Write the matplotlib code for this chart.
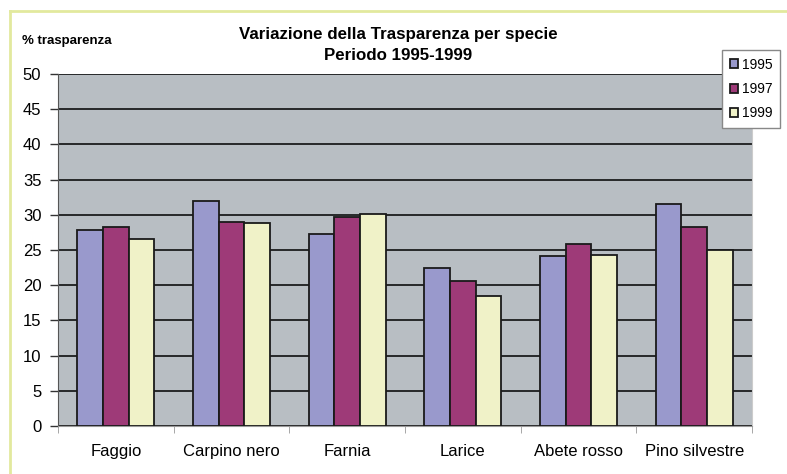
import matplotlib
matplotlib.use('Agg')
import matplotlib.pyplot as plt
import numpy as np
from matplotlib.lines import Line2D

plt.rcParams['font.family'] = ['Liberation Sans', 'DejaVu Sans']

species = ['Faggio', 'Carpino nero', 'Farnia', 'Larice', 'Abete rosso', 'Pino silvestre']
years = ['1995', '1997', '1999']
v1995 = [27.8, 31.9, 27.3, 22.4, 24.2, 31.5]
v1997 = [28.2, 29.0, 29.7, 20.6, 25.9, 28.3]
v1999 = [26.6, 28.8, 30.1, 18.5, 24.3, 25.0]
yticks = [0, 5, 10, 15, 20, 25, 30, 35, 40, 45, 50]

colors = ['#9999CC', '#9E3A78', '#F0F2C8']

fig = plt.figure(figsize=(7.87, 4.74), dpi=100)
ax = fig.add_axes([58/787, 1-426/474, (752-58)/787, (426-74)/474])
ax.set_facecolor('#B8BEC3')

x = np.arange(len(species))
w = 0.222
for i, (vals, lab) in enumerate(zip([v1995, v1997, v1999], years)):
    ax.bar(x + (i-1)*w, vals, w, color=colors[i], edgecolor='#1a1a1a', linewidth=1.3, label=lab, zorder=3)

ax.set_ylim(0, 50)
ax.set_xlim(-0.5, len(species)-0.5)
ax.set_yticks(yticks)
ax.set_yticklabels([str(t) for t in yticks], fontsize=12)
ax.yaxis.grid(True, color='black', linewidth=1.1, zorder=1)
ax.set_axisbelow(True)
ax.tick_params(axis='y', length=6, width=1, color='#333333', pad=6)

ax.set_xticks(x)
ax.set_xticklabels(species, fontsize=12)
ax.set_xticks(np.arange(-0.5, len(species)), minor=True)
ax.tick_params(axis='x', which='major', length=0, pad=13)
ax.tick_params(axis='x', which='minor', length=5, color='#999999')

ax.spines['left'].set_color('#555555')
ax.spines['bottom'].set_color('#999999')
ax.spines['right'].set_color('#cccccc')
ax.spines['top'].set_visible(False)

fig.text(398/787, 1-35/474, 'Variazione della Trasparenza per specie', ha='center', va='center',
         fontsize=12.2, fontweight='bold')
fig.text(398/787, 1-56/474, 'Periodo 1995-1999', ha='center', va='center',
         fontsize=12.2, fontweight='bold')
fig.text(22/787, 1-41/474, '% trasparenza', ha='left', va='center', fontsize=9.5, fontweight='bold')

leg = fig.legend(loc='upper left', bbox_to_anchor=(722/787, 1-50/474), fontsize=10,
                 frameon=True, fancybox=False, edgecolor='#888888', framealpha=1,
                 handlelength=0.6, handleheight=0.6, handletextpad=0.3, labelspacing=0.75,
                 borderpad=0.55, borderaxespad=0)

fig.add_artist(Line2D([10/787, 1], [1-11/474, 1-11/474], color='#E2E99E', linewidth=2, transform=fig.transFigure))
fig.add_artist(Line2D([10/787, 10/787], [0, 1-11/474], color='#E2E99E', linewidth=2, transform=fig.transFigure))

fig.savefig('out.png', dpi=100)
